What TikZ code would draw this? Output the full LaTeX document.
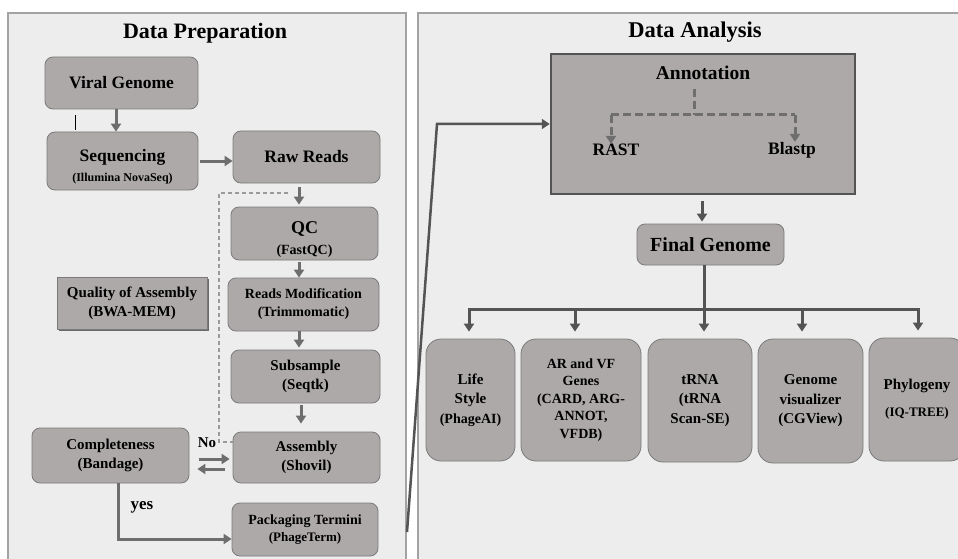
\documentclass[tikz,border=0pt]{standalone}
\usepackage{fontspec}
\setmainfont{Liberation Serif}
\usetikzlibrary{arrows.meta,shadows}
\definecolor{panelfill}{HTML}{EDEDED}
\definecolor{panelline}{HTML}{A3A3A3}
\definecolor{boxfill}{HTML}{ADA9A9}
\definecolor{boxline}{HTML}{7A7A7A}
\definecolor{arrowc}{HTML}{6E6E6E}
\definecolor{arrowd}{HTML}{545454}
\definecolor{dashc}{HTML}{9A9A9A}
\definecolor{shadowc}{HTML}{6A6A6A}
\newcommand\myfs[2]{\fontsize{#1}{#2}\selectfont}
\newcommand\mybox[7]{\node[#1, minimum width={#4-#2}, minimum height={#5-#3}] (#6) at ({(#2+#4)/2},{(#3+#5)/2}) {#7};}
\begin{document}
\begin{tikzpicture}[x=1pt,y=-1pt,
  panel/.style={fill=panelfill, draw=panelline, line width=1.2pt},
  box/.style={rectangle, rounded corners=8pt, fill=boxfill, draw=boxline, line width=0.8pt, inner sep=1pt, align=center},
  bigbox/.style={box, rounded corners=15pt},
  qabox/.style={rectangle, fill=boxfill, draw=boxline, line width=0.8pt, inner sep=1pt, align=center,
     general shadow={fill=shadowc, shadow xshift=1.8pt, shadow yshift=-1.8pt}},
  annbox/.style={rectangle, fill=boxfill, draw=arrowd, line width=2.5pt, inner sep=0pt},
  arr/.style={draw=arrowc, line width=3pt, -{Triangle[length=8pt,width=10pt]}},
  arrd/.style={draw=arrowd, line width=3pt, -{Triangle[length=8pt,width=10pt]}},
  lined/.style={draw=arrowd, line width=3pt},
  dashln/.style={draw=dashc, line width=1.2pt, dash pattern=on 4pt off 3pt},
  dashA/.style={draw=arrowc, line width=3pt, dash pattern=on 8pt off 4pt},
  lbl/.style={inner sep=0pt, align=center}
]
\useasboundingbox (0,0) rectangle (958,559);
\clip (0,0) rectangle (958,559);
\fill[white] (0,0) rectangle (958,559);
% panels
\draw[panel] (8,13) rectangle (406,575);
\draw[panel] (418,13) rectangle (980,575);
\node[lbl, font=\bfseries\myfs{22}{26}] (t1) at (205,33) {Data Preparation};
\node[lbl, font=\bfseries\myfs{22.5}{26}] (t2) at (695,32) {Data Analysis};

% left boxes
\mybox{box, font=\bfseries\myfs{17.5}{20}}{45}{57}{198}{109}{vg}{Viral Genome}
\mybox{box, label={[lbl, font=\bfseries\myfs{17.5}{20}, yshift=-6pt]center:{Sequencing\\{\myfs{12}{20}(Illumina NovaSeq)}}}}{47}{132}{198}{190}{seq}{}
\mybox{box, font=\bfseries\myfs{17.5}{20}}{233}{131}{380}{183}{raw}{Raw Reads}
\mybox{box, label={[lbl, font=\bfseries\myfs{18}{21}, yshift=-6pt]center:{QC\\{\myfs{14}{21}(FastQC)}}}}{231}{207}{378}{260}{qc}{}
\mybox{box, font=\bfseries\myfs{14}{18}}{228}{278}{379}{331}{rm}{Reads Modification\\(Trimmomatic)}
\mybox{box, font=\bfseries\myfs{15}{19}}{231}{350}{380}{403}{sub}{Subsample\\(Seqtk)}
\mybox{box, font=\bfseries\myfs{15}{19}}{233}{432}{380}{483}{asm}{Assembly\\(Shovil)}
\mybox{box, font=\bfseries\myfs{15}{19}}{32}{428}{189}{483}{comp}{Completeness\\(Bandage)}
\mybox{qabox, font=\bfseries\myfs{15}{19}}{57}{277}{207}{329}{qa}{Quality of Assembly\\(BWA-MEM)}
\mybox{box, font=\bfseries\myfs{14}{17}}{232}{503}{378}{556}{pt}{Packaging Termini\\{\myfs{13}{17}(PhageTerm)}}

% left connectors
\coordinate (cA) at (116,0);
\coordinate (cB) at (0,161);
\coordinate (cC) at (299,0);
\coordinate (cD) at (301,0);
\coordinate (cE) at (0,459);
\coordinate (cG) at (0,469);
\coordinate (cY) at (118,539);
\draw[arr] (vg.south -| cA) -- (seq.north -| cA);
\draw[arr, shorten <=2pt] (seq.east |- cB) -- (raw.west |- cB);
\draw[arr, shorten <=4pt, shorten >=2pt] (raw.south -| cC) -- (qc.north -| cC);
\draw[arr, shorten <=2pt] (qc.south -| cC) -- (rm.north -| cC);
\draw[arr, shorten >=2pt] (rm.south -| cC) -- (sub.north -| cC);
\draw[arr, shorten <=2pt, shorten >=8pt] (sub.south -| cD) -- (asm.north -| cD);
\draw[arr, shorten <=10pt, shorten >=3pt] (comp.east |- cE) -- (asm.west |- cE);
\draw[arr, shorten <=8pt, shorten >=8pt] (asm.west |- cG) -- (comp.east |- cG);
\draw[arr] (comp.south -| cY) -- (cY) -- (pt.west |- cY);
\node[lbl, font=\bfseries\myfs{17}{20}] (yes) at (142,507) {yes};
\node[lbl, font=\bfseries\myfs{15}{18}] (no) at (207,443) {No};
\coordinate (d1) at (288,193);
\coordinate (d2) at (219,193);
\coordinate (d3) at (219,442);
\draw[dashln] (d1) -- (d2) -- (d3) -- (d3 -| asm.west);
\draw[black, line width=0.8pt] (75,115) -- (75,130);

% annotation
\mybox{annbox}{551}{54}{855}{194}{ann}{}
\node[lbl, font=\bfseries\myfs{19.5}{22}] (annt) at (703,73) {Annotation};
\node[lbl, font=\bfseries\myfs{17.5}{20}] (rast) at (616,150) {RAST};
\node[lbl, font=\bfseries\myfs{17.5}{20}] (blastp) at (792,150) {Blastp};
\coordinate (a0) at (694,89);
\coordinate (a1) at (694,115);
\coordinate (aL) at (611,115);
\coordinate (aR) at (795,115);
\draw[dashA] (a0) -- (a1);
\draw[dashA] (aL) -- (aR);
\draw[dashA, -{Triangle[length=8pt,width=10pt]}] (aL) -- (aL |- rast.north);
\draw[dashA, -{Triangle[length=8pt,width=10pt]}] (aR) -- (aR |- blastp.north);

% long connector
\coordinate (L0) at (407,532);
\coordinate (L1) at (437,124);
\draw[arrd, line width=2.5pt] (L0) -- (L1) -- (ann.west |- L1);

% final genome
\mybox{box, font=\bfseries\myfs{20}{22}}{637}{224}{784}{265}{fg}{Final Genome}
\coordinate (cF) at (702,0);
\draw[arrd, shorten <=6pt, shorten >=2pt] (ann.south -| cF) -- (fg.north -| cF);

% bottom boxes
\mybox{bigbox, font=\bfseries\myfs{15}{19.5}}{426}{339}{515}{461}{ls}{Life\\Style\\{\myfs{14}{19.5}(PhageAI)}}
\mybox{bigbox, font=\bfseries\myfs{14}{17.5}}{521}{339}{641}{461}{ar}{AR and VF\\Genes\\(CARD, ARG-\\ANNOT,\\VFDB)}
\mybox{bigbox, font=\bfseries\myfs{15}{19.5}}{648}{339}{752}{462}{trna}{tRNA\\(tRNA\\Scan-SE)}
\mybox{bigbox, font=\bfseries\myfs{15}{19.5}}{758}{339}{863}{463}{gv}{Genome\\visualizer\\(CGView)}
\mybox{bigbox, font=\bfseries\myfs{15}{27}}{869}{338}{965}{461}{phy}{Phylogeny\\{\myfs{13}{27}(IQ-TREE)}}

% distribution bar
\coordinate (b1) at (469,309);
\coordinate (b2) at (575,309);
\coordinate (b3) at (704,309);
\coordinate (b4) at (802,309);
\coordinate (b5) at (918,309);
\draw[lined, line cap=rect] (b1) -- (b5);
\draw[arrd, shorten >=7pt] (b1) -- (ls.north -| b1);
\draw[arrd, shorten >=7pt] (b2) -- (ar.north -| b2);
\draw[arrd, shorten >=7pt] (fg.south -| b3) -- (trna.north -| b3);
\draw[arrd, shorten >=7pt] (b4) -- (gv.north -| b4);
\draw[arrd, shorten >=7pt] (b5) -- (phy.north -| b5);
\end{tikzpicture}
\end{document}
